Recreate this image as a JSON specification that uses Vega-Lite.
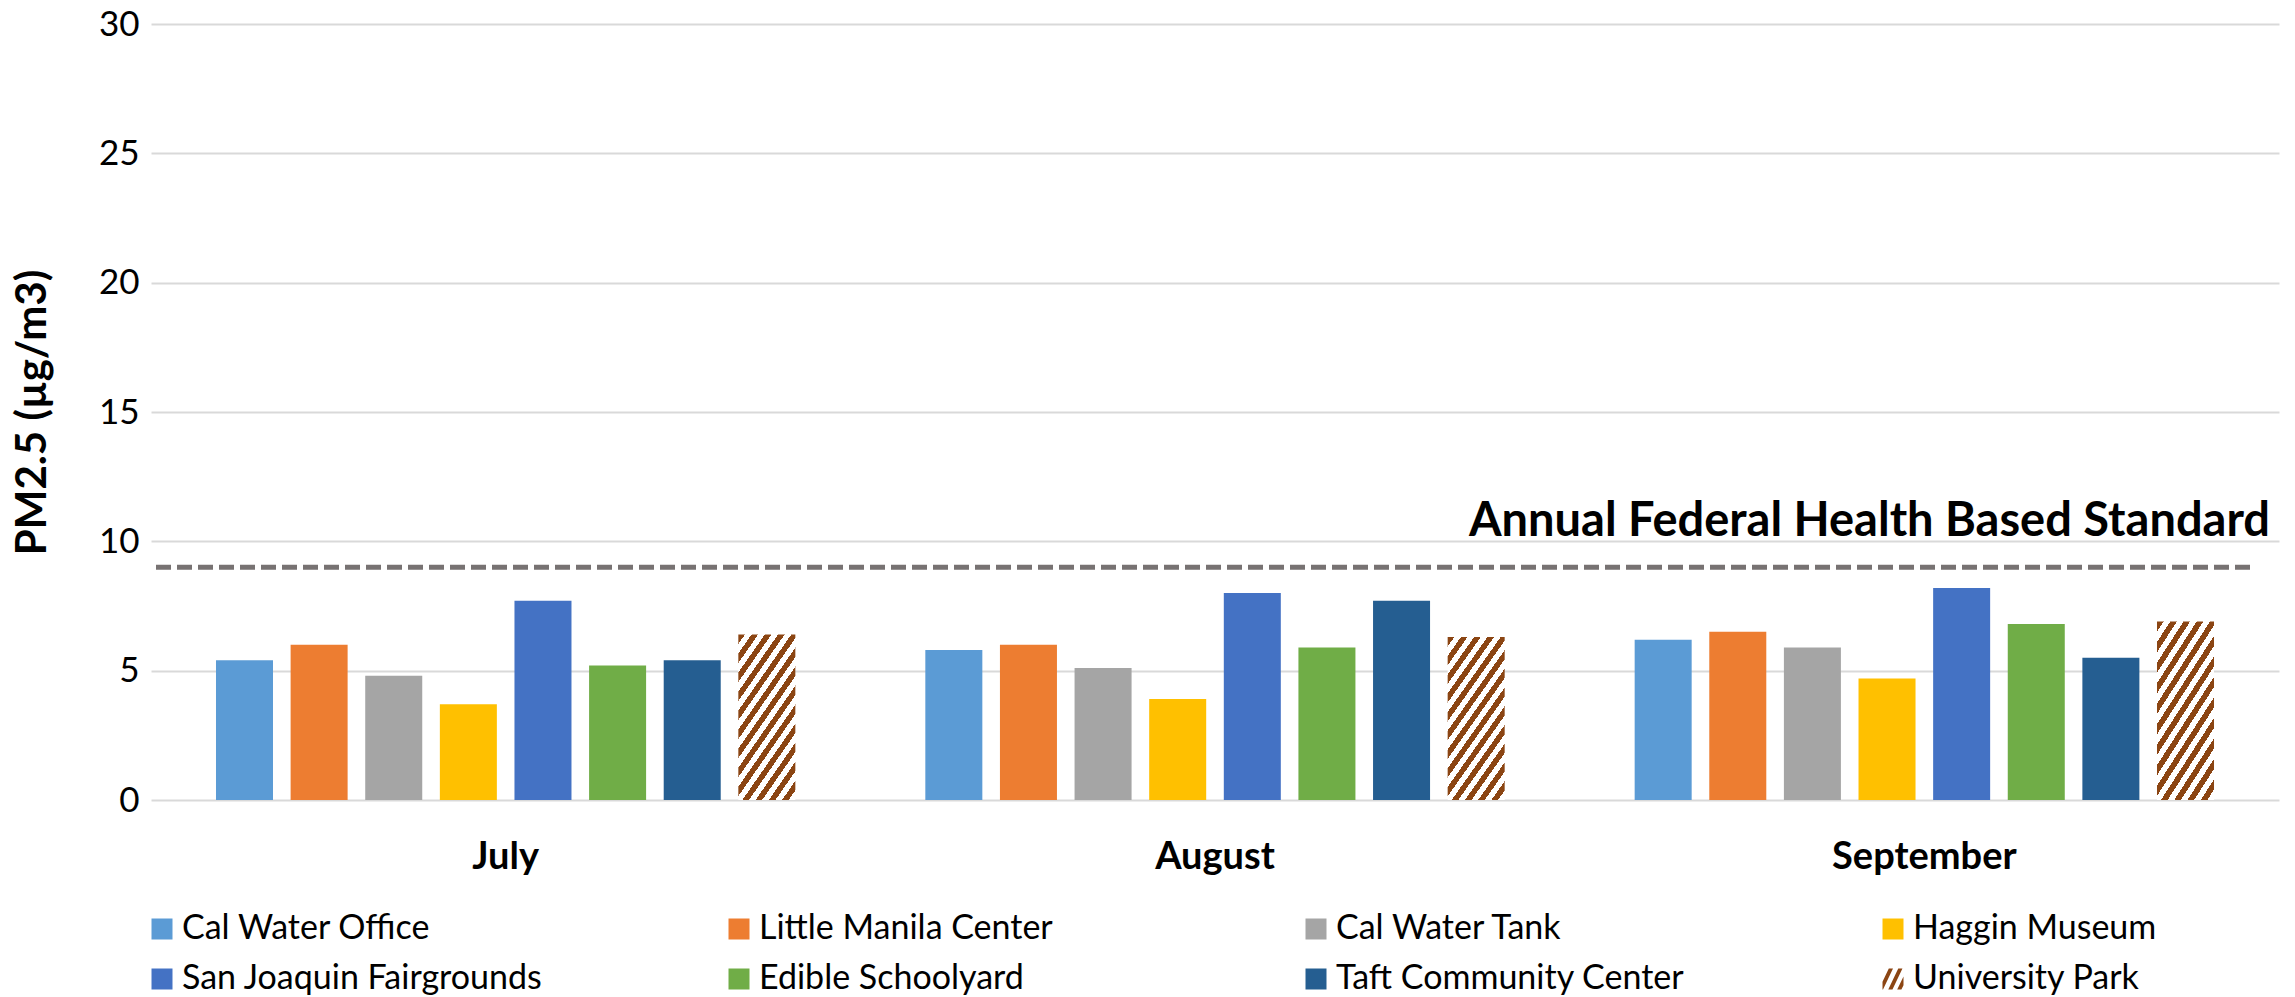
{
  "$schema": "https://vega.github.io/schema/vega-lite/v6.json",
  "autosize": {"type": "none"},
  "width": 2099,
  "height": 776,
  "padding": {"left": 151, "top": 24, "right": 45, "bottom": 197},
  "background": "#ffffff",
  "config": {
    "view": {"stroke": null},
    "font": "Lato",
    "axis": {"labelFont": "Lato", "titleFont": "Lato", "labelColor": "#000000", "titleColor": "#000000"}
  },
  "layer": [
    {
      "data": {
        "values": [
          {"month": "July", "site": "Cal Water Office", "pm25": 5.4},
          {"month": "July", "site": "Little Manila Center", "pm25": 6.0},
          {"month": "July", "site": "Cal Water Tank", "pm25": 4.8},
          {"month": "July", "site": "Haggin Museum", "pm25": 3.7},
          {"month": "July", "site": "San Joaquin Fairgrounds", "pm25": 7.7},
          {"month": "July", "site": "Edible Schoolyard", "pm25": 5.2},
          {"month": "July", "site": "Taft Community Center", "pm25": 5.4},
          {"month": "July", "site": "University Park", "pm25": 6.4},
          {"month": "August", "site": "Cal Water Office", "pm25": 5.8},
          {"month": "August", "site": "Little Manila Center", "pm25": 6.0},
          {"month": "August", "site": "Cal Water Tank", "pm25": 5.1},
          {"month": "August", "site": "Haggin Museum", "pm25": 3.9},
          {"month": "August", "site": "San Joaquin Fairgrounds", "pm25": 8.0},
          {"month": "August", "site": "Edible Schoolyard", "pm25": 5.9},
          {"month": "August", "site": "Taft Community Center", "pm25": 7.7},
          {"month": "August", "site": "University Park", "pm25": 6.3},
          {"month": "September", "site": "Cal Water Office", "pm25": 6.2},
          {"month": "September", "site": "Little Manila Center", "pm25": 6.5},
          {"month": "September", "site": "Cal Water Tank", "pm25": 5.9},
          {"month": "September", "site": "Haggin Museum", "pm25": 4.7},
          {"month": "September", "site": "San Joaquin Fairgrounds", "pm25": 8.2},
          {"month": "September", "site": "Edible Schoolyard", "pm25": 6.8},
          {"month": "September", "site": "Taft Community Center", "pm25": 5.5},
          {"month": "September", "site": "University Park", "pm25": 6.9}
        ]
      },
      "mark": {"type": "bar"},
      "encoding": {
        "x": {
          "field": "month",
          "type": "nominal",
          "scale": {"domain": ["July", "August", "September"], "range": [0, 2128], "paddingInner": 0, "paddingOuter": 0},
          "axis": {
            "title": null,
            "domain": false,
            "ticks": false,
            "tickSize": 0,
            "labelAngle": 0,
            "labelFont": "Lato",
            "labelFontWeight": "bold",
            "labelFontSize": 38,
            "labelBaseline": "alphabetic",
            "labelPadding": 68,
            "labelLimit": 500
          }
        },
        "xOffset": {
          "field": "site",
          "type": "nominal",
          "scale": {
            "domain": ["Cal Water Office", "Little Manila Center", "Cal Water Tank", "Haggin Museum", "San Joaquin Fairgrounds", "Edible Schoolyard", "Taft Community Center", "University Park"],
            "paddingInner": 0.236,
            "paddingOuter": 0.871
          }
        },
        "y": {
          "field": "pm25",
          "type": "quantitative",
          "scale": {"domain": [0, 30], "nice": false},
          "axis": {
            "title": "PM2.5 (µg/m3)",
            "values": [0, 5, 10, 15, 20, 25, 30],
            "domain": false,
            "ticks": false,
            "tickSize": 0,
            "grid": true,
            "gridColor": "#d9d9d9",
            "gridWidth": 2,
            "labelFontSize": 35,
            "labelPadding": 12,
            "titleFontSize": 42,
            "titleFontWeight": "bold",
            "titlePadding": 44
          }
        },
        "color": {
          "condition": {
            "test": "datum.site === 'University Park'",
            "value": {
              "gradient": "linear",
              "x1": 0, "y1": 0, "x2": 0.594, "y2": 1.2,
              "stops": [
                {"offset": 0, "color": "#8B4513"}, {"offset": 0.0385, "color": "#8B4513"}, {"offset": 0.0385, "color": "#ffffff"}, {"offset": 0.0769, "color": "#ffffff"},
                {"offset": 0.0769, "color": "#8B4513"}, {"offset": 0.1154, "color": "#8B4513"}, {"offset": 0.1154, "color": "#ffffff"}, {"offset": 0.1538, "color": "#ffffff"},
                {"offset": 0.1538, "color": "#8B4513"}, {"offset": 0.1923, "color": "#8B4513"}, {"offset": 0.1923, "color": "#ffffff"}, {"offset": 0.2308, "color": "#ffffff"},
                {"offset": 0.2308, "color": "#8B4513"}, {"offset": 0.2692, "color": "#8B4513"}, {"offset": 0.2692, "color": "#ffffff"}, {"offset": 0.3077, "color": "#ffffff"},
                {"offset": 0.3077, "color": "#8B4513"}, {"offset": 0.3462, "color": "#8B4513"}, {"offset": 0.3462, "color": "#ffffff"}, {"offset": 0.3846, "color": "#ffffff"},
                {"offset": 0.3846, "color": "#8B4513"}, {"offset": 0.4231, "color": "#8B4513"}, {"offset": 0.4231, "color": "#ffffff"}, {"offset": 0.4615, "color": "#ffffff"},
                {"offset": 0.4615, "color": "#8B4513"}, {"offset": 0.5, "color": "#8B4513"}, {"offset": 0.5, "color": "#ffffff"}, {"offset": 0.5385, "color": "#ffffff"},
                {"offset": 0.5385, "color": "#8B4513"}, {"offset": 0.5769, "color": "#8B4513"}, {"offset": 0.5769, "color": "#ffffff"}, {"offset": 0.6154, "color": "#ffffff"},
                {"offset": 0.6154, "color": "#8B4513"}, {"offset": 0.6538, "color": "#8B4513"}, {"offset": 0.6538, "color": "#ffffff"}, {"offset": 0.6923, "color": "#ffffff"},
                {"offset": 0.6923, "color": "#8B4513"}, {"offset": 0.7308, "color": "#8B4513"}, {"offset": 0.7308, "color": "#ffffff"}, {"offset": 0.7692, "color": "#ffffff"},
                {"offset": 0.7692, "color": "#8B4513"}, {"offset": 0.8077, "color": "#8B4513"}, {"offset": 0.8077, "color": "#ffffff"}, {"offset": 0.8462, "color": "#ffffff"},
                {"offset": 0.8462, "color": "#8B4513"}, {"offset": 0.8846, "color": "#8B4513"}, {"offset": 0.8846, "color": "#ffffff"}, {"offset": 0.9231, "color": "#ffffff"},
                {"offset": 0.9231, "color": "#8B4513"}, {"offset": 0.9615, "color": "#8B4513"}, {"offset": 0.9615, "color": "#ffffff"}, {"offset": 1, "color": "#ffffff"}
              ]
            }
          },
          "field": "site",
          "type": "nominal",
          "scale": {
            "domain": ["Cal Water Office", "Little Manila Center", "Cal Water Tank", "Haggin Museum", "San Joaquin Fairgrounds", "Edible Schoolyard", "Taft Community Center", "University Park"],
            "range": ["#5B9BD5", "#ED7D31", "#A5A5A5", "#FFC000", "#4472C4", "#70AD47", "#255E91", "#8B4513"]
          },
          "legend": {
            "title": null,
            "orient": "none",
            "legendX": -6,
            "legendY": 888,
            "direction": "horizontal",
            "columns": 4,
            "gridAlign": "all",
            "columnPadding": 179,
            "rowPadding": 16,
            "symbolType": "square",
            "symbolSize": 441,
            "symbolStrokeWidth": 0,
            "labelFont": "Lato",
            "labelFontSize": 34,
            "labelColor": "#000000",
            "labelOffset": 3,
            "labelLimit": 600,
            "encode": {
              "symbols": {
                "update": {
                  "shape": {"signal": "datum.value === 'University Park' ? 'M-1,0.25L-0.4,-1L0,-1L-0.95,1L-1,1Z M-0.45,1L0.5,-1L0.9,-1L-0.05,1Z M0.4,1L1,-0.25L1,0.6L0.8,1Z' : 'square'"},
                  "strokeWidth": {"value": 0}
                }
              }
            }
          }
        }
      }
    },
    {
      "data": {"values": [{"standard": 9, "label": "Annual Federal Health Based Standard"}]},
      "mark": {"type": "rule", "strokeDash": [15, 6], "strokeWidth": 5, "color": "#777272"},
      "encoding": {
        "y": {"field": "standard", "type": "quantitative"}
      }
    },
    {
      "data": {"values": [{"standard": 9, "label": "Annual Federal Health Based Standard"}]},
      "mark": {"type": "text", "align": "right", "baseline": "alphabetic", "dx": -9, "dy": -31, "font": "Lato", "fontWeight": "bold", "fontSize": 47, "color": "#000000"},
      "encoding": {
        "x": {"datum": "September", "type": "nominal", "bandPosition": 1},
        "y": {"field": "standard", "type": "quantitative"},
        "text": {"field": "label"}
      }
    }
  ]
}
